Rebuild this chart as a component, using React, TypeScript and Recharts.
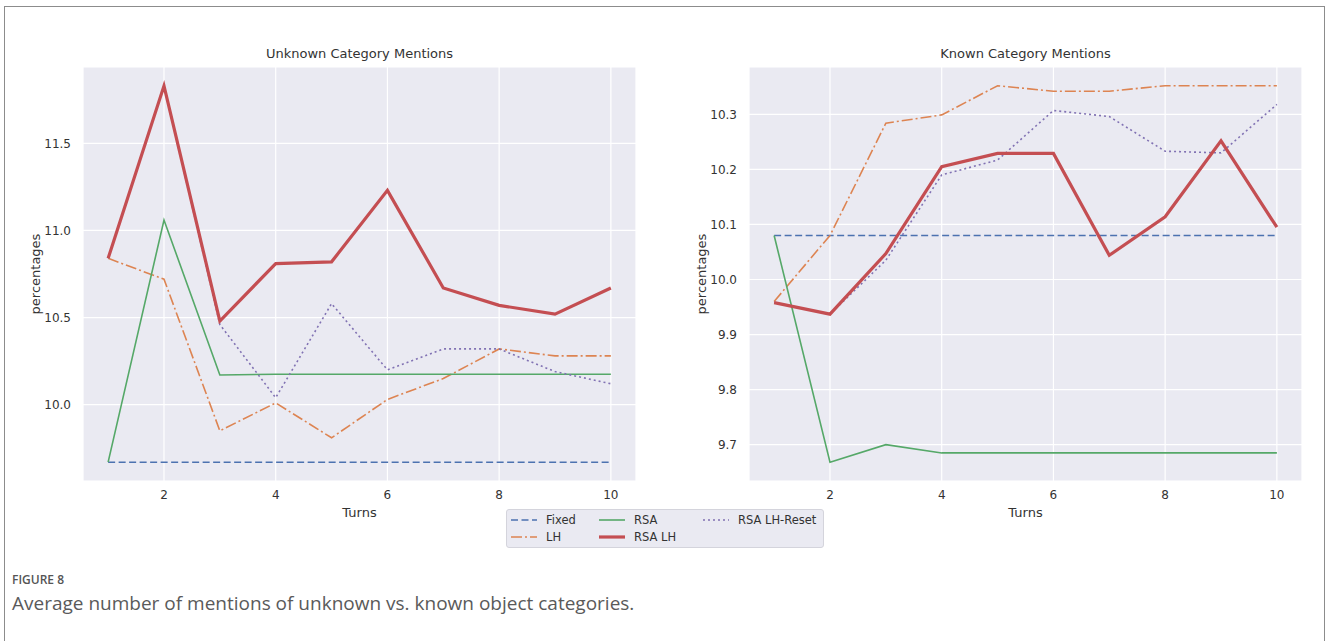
import React from "react";
import { LineChart, Line, XAxis, YAxis, CartesianGrid } from "recharts";

const turns = [1, 2, 3, 4, 5, 6, 7, 8, 9, 10];
const turnTicks = [2, 4, 6, 8, 10];

// Unknown category mentions
const unknownFixed = [9.67, 9.67, 9.67, 9.67, 9.67, 9.67, 9.67, 9.67, 9.67, 9.67];
const unknownLH = [10.84, 10.72, 9.85, 10.01, 9.81, 10.03, 10.15, 10.32, 10.28, 10.28];
const unknownRSA = [9.67, 11.06, 10.17, 10.175, 10.175, 10.175, 10.175, 10.175, 10.175, 10.175];
const unknownRSALH = [10.84, 11.83, 10.48, 10.81, 10.82, 11.23, 10.67, 10.57, 10.52, 10.67];
const unknownReset = [10.84, 11.83, 10.46, 10.04, 10.58, 10.2, 10.32, 10.32, 10.19, 10.12];
const unknownTicks = [10.0, 10.5, 11.0, 11.5];

// Known category mentions
const knownFixed = [10.08, 10.08, 10.08, 10.08, 10.08, 10.08, 10.08, 10.08, 10.08, 10.08];
const knownLH = [9.96, 10.08, 10.284, 10.299, 10.352, 10.342, 10.342, 10.352, 10.352, 10.352];
const knownRSA = [10.08, 9.668, 9.7, 9.685, 9.685, 9.685, 9.685, 9.685, 9.685, 9.685];
const knownRSALH = [9.958, 9.937, 10.047, 10.205, 10.229, 10.229, 10.044, 10.114, 10.252, 10.095];
const knownReset = [9.958, 9.937, 10.035, 10.19, 10.217, 10.307, 10.296, 10.233, 10.23, 10.318];
const knownTicks = [9.7, 9.8, 9.9, 10.0, 10.1, 10.2, 10.3];

const SERIES = [
  { key: "fixed", name: "Fixed", color: "#4c72b0", dash: "7 3.5", width: 1.6 },
  { key: "lh", name: "LH", color: "#dd8452", dash: "11 3 2 3", width: 1.6 },
  { key: "rsa", name: "RSA", color: "#55a868", dash: undefined, width: 1.6 },
  { key: "reset", name: "RSA LH-Reset", color: "#8172b3", dash: "2 3", width: 1.6 },
  { key: "rsalh", name: "RSA LH", color: "#c44e52", dash: undefined, width: 3.2 },
];

// legend is laid out column-wise like matplotlib (ncol=3)
const LEGEND_ORDER = ["fixed", "lh", "rsa", "rsalh", "reset"];

const FONT = "'DejaVu Sans', sans-serif";
const TEXT = "#333333";

const buildRows = (
  fixed: number[],
  lh: number[],
  rsa: number[],
  rsalh: number[],
  reset: number[]
) =>
  turns.map((t, i) => ({
    turn: t,
    fixed: fixed[i],
    lh: lh[i],
    rsa: rsa[i],
    rsalh: rsalh[i],
    reset: reset[i],
  }));

type PanelProps = {
  title: string;
  rows: ReturnType<typeof buildRows>;
  yDomain: [number, number];
  yTicks: number[];
  left: number;
  width: number;
  marginLeft: number;
  marginRight: number;
};

const Panel = ({
  title,
  rows,
  yDomain,
  yTicks,
  left,
  width,
  marginLeft,
  marginRight,
}: PanelProps) => {
  const plotLeft = marginLeft + 60;
  const plotWidth = width - plotLeft - marginRight;
  return (
    <div style={{ position: "absolute", left, top: 0, width, height: 530 }}>
      <div
        style={{
          position: "absolute",
          left: plotLeft,
          width: plotWidth,
          top: 46,
          textAlign: "center",
          fontSize: 13,
          lineHeight: "16px",
          color: TEXT,
        }}
      >
        {title}
      </div>
      <LineChart
        width={width}
        height={530}
        data={rows}
        margin={{ top: 67, right: marginRight, left: marginLeft, bottom: 25 }}
      >
        <CartesianGrid fill="#eaeaf2" stroke="#ffffff" strokeWidth={1.2} />
        <XAxis
          dataKey="turn"
          type="number"
          domain={[0.55, 10.45]}
          ticks={turnTicks}
          allowDataOverflow
          axisLine={false}
          tickLine={false}
          tickMargin={3}
          height={24}
          tick={{ fill: TEXT, fontSize: 12, fontFamily: FONT }}
          label={{
            value: "Turns",
            position: "bottom",
            offset: 3,
            style: { fill: TEXT, fontSize: 13, fontFamily: FONT },
          }}
        />
        <YAxis
          type="number"
          domain={yDomain}
          ticks={yTicks}
          allowDataOverflow
          axisLine={false}
          tickLine={false}
          tickMargin={6}
          width={60}
          tickFormatter={(v: number) => v.toFixed(1)}
          tick={{ fill: TEXT, fontSize: 12, fontFamily: FONT }}
          label={{
            value: "percentages",
            angle: -90,
            position: "insideLeft",
            offset: 12,
            style: {
              textAnchor: "middle",
              fill: TEXT,
              fontSize: 13,
              fontFamily: FONT,
            },
          }}
        />
        {SERIES.map((s) => (
          <Line
            key={s.key}
            type="linear"
            dataKey={s.key}
            name={s.name}
            stroke={s.color}
            strokeWidth={s.width}
            strokeDasharray={s.dash}
            dot={false}
            activeDot={false}
            isAnimationActive={false}
          />
        ))}
      </LineChart>
    </div>
  );
};

const Legend = () => {
  const cols = [4, 92, 196];
  return (
    <div
      style={{
        position: "absolute",
        left: 506,
        top: 509,
        width: 316,
        height: 37,
        background: "#eaeaf2",
        border: "1px solid #d4d4dc",
        borderRadius: 3,
        fontSize: 11.5,
        color: TEXT,
      }}
    >
      {LEGEND_ORDER.map((key, i) => {
        const s = SERIES.find((x) => x.key === key)!;
        const col = Math.floor(i / 2);
        const row = i % 2;
        return (
          <div
            key={key}
            style={{
              position: "absolute",
              left: cols[col],
              top: 2 + row * 17,
              height: 16,
              display: "flex",
              alignItems: "center",
              whiteSpace: "nowrap",
            }}
          >
            <svg width={26} height={10} style={{ marginRight: 9 }}>
              <line
                x1={0}
                x2={26}
                y1={5}
                y2={5}
                stroke={s.color}
                strokeWidth={s.width}
                strokeDasharray={s.dash}
              />
            </svg>
            <span>{s.name}</span>
          </div>
        );
      })}
    </div>
  );
};

const unknownRows = buildRows(unknownFixed, unknownLH, unknownRSA, unknownRSALH, unknownReset);
const knownRows = buildRows(knownFixed, knownLH, knownRSA, knownRSALH, knownReset);

export default function App() {
  return (
    <div
      style={{
        position: "absolute",
        left: 0,
        top: 0,
        width: 1328,
        height: 641,
        overflow: "hidden",
        background: "#ffffff",
        fontFamily: FONT,
      }}
    >
      <div
        style={{
          position: "absolute",
          left: 4,
          top: 6,
          width: 1319,
          height: 720,
          border: "1.5px solid #8c8c8c",
        }}
      />
      <Panel
        title="Unknown Category Mentions"
        rows={unknownRows}
        yDomain={[9.562, 11.938]}
        yTicks={unknownTicks}
        left={0}
        width={660}
        marginLeft={23}
        marginRight={24}
      />
      <Panel
        title="Known Category Mentions"
        rows={knownRows}
        yDomain={[9.634, 10.386]}
        yTicks={knownTicks}
        left={660}
        width={668}
        marginLeft={29}
        marginRight={26}
      />
      <Legend />
      <div
        style={{
          position: "absolute",
          left: 12,
          top: 571,
          fontFamily: "'Open Sans', sans-serif",
          fontWeight: 600,
          fontSize: 12,
          color: "#555555",
        }}
      >
        FIGURE 8
      </div>
      <div
        style={{
          position: "absolute",
          left: 12,
          top: 590,
          fontFamily: "'Open Sans', sans-serif",
          fontSize: 19,
          color: "#5a5a5a",
        }}
      >
        Average number of mentions of unknown vs. known object categories.
      </div>
    </div>
  );
}
